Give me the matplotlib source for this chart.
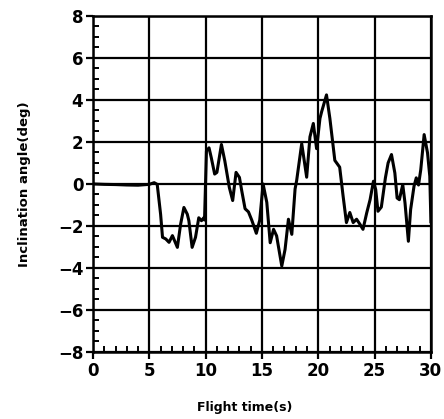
import matplotlib
matplotlib.use('Agg')
import matplotlib.pyplot as plt
from matplotlib.ticker import MultipleLocator

# flight record
time_s = [0.0, 1.0, 2.0, 3.0, 4.0, 4.99, 5.43, 5.7, 6.0, 6.17, 6.46, 6.75, 7.05,
          7.49, 7.78, 8.07, 8.37, 8.51, 8.8, 9.1, 9.39, 9.63, 9.83, 9.9,
          10.07, 10.3, 10.5, 10.8, 11.0, 11.4, 11.7, 12.1, 12.4, 12.7, 13.0,
          13.2, 13.5, 13.8, 14.1, 14.5, 14.8, 15.1, 15.43, 15.73, 16.03, 16.3,
          16.76, 17.05, 17.35, 17.65, 17.94, 18.08, 18.53, 18.97, 19.26, 19.56,
          19.85, 20.15, 20.3, 20.73, 21.03, 21.47, 21.9, 22.2, 22.5, 22.8, 23.1,
          23.4, 23.7, 23.97, 24.3, 24.6, 24.9, 25.1, 25.3, 25.6, 25.96, 26.2,
          26.5, 26.8, 27.0, 27.2, 27.5, 27.7, 28.0, 28.2, 28.5, 28.7, 28.9,
          29.1, 29.4, 29.7, 29.9, 30.0]
angle_deg = [0.0, -0.02, -0.03, -0.05, -0.06, -0.02, 0.06, -0.02, -1.44, -2.54,
             -2.62, -2.78, -2.46, -3.02, -1.91, -1.12, -1.44, -1.75, -3.02,
             -2.54, -1.61, -1.75, -1.61, -1.72, 1.57, 1.72, 1.25, 0.47, 0.55,
             1.88, 1.1, -0.16, -0.79, 0.55, 0.31, -0.31, -1.18, -1.33, -1.73,
             -2.35, -1.73, 0.0, -0.88, -2.8, -2.16, -2.47, -3.91, -3.12, -1.68,
             -2.4, -0.24, 0.16, 1.92, 0.32, 2.24, 2.88, 1.68, 3.12, 3.44, 4.24,
             3.12, 1.12, 0.8, -0.56, -1.84, -1.36, -1.84, -1.68, -1.92, -2.16,
             -1.38, -0.75, 0.13, -0.27, -1.3, -1.1, 0.29, 1.0, 1.4, 0.52, -0.67,
             -0.75, -0.03, -0.9, -2.73, -1.22, -0.11, 0.29, -0.05, 0.68, 2.35,
             1.48, 0.37, -1.8]

x_ticks = [0, 5, 10, 15, 20, 25, 30]
y_ticks = [-8, -6, -4, -2, 0, 2, 4, 6, 8]

fig = plt.figure(figsize=(4.44, 4.19), dpi=100)
ax = fig.add_axes([0.2095, 0.160, 0.761, 0.802])

ax.plot(time_s, angle_deg, color='black', lw=2.2)

ax.set_xlim(0, 30)
ax.set_ylim(-8, 8)
ax.set_xticks(x_ticks)
ax.set_yticks(y_ticks)
ax.xaxis.set_minor_locator(MultipleLocator(1))
ax.yaxis.set_minor_locator(MultipleLocator(0.5))
ax.grid(True, which='major', color='black', lw=1.6)

for s in ax.spines.values():
    s.set_linewidth(1.8)
ax.tick_params(which='major', direction='out', length=5, width=1.6,
               labelsize=12, pad=2)
ax.tick_params(which='minor', direction='in', length=4, width=1.4)
for lab in ax.get_xticklabels() + ax.get_yticklabels():
    lab.set_fontweight('bold')

ax.set_xlabel('Flight time(s)', fontsize=9, fontweight='bold')
ax.set_ylabel('Inclination angle(deg)', fontsize=9.5, fontweight='bold')
ax.xaxis.set_label_coords(0.45, -0.145)
ax.yaxis.set_label_coords(-0.185, 0.5)

fig.savefig('out.png', dpi=100)
